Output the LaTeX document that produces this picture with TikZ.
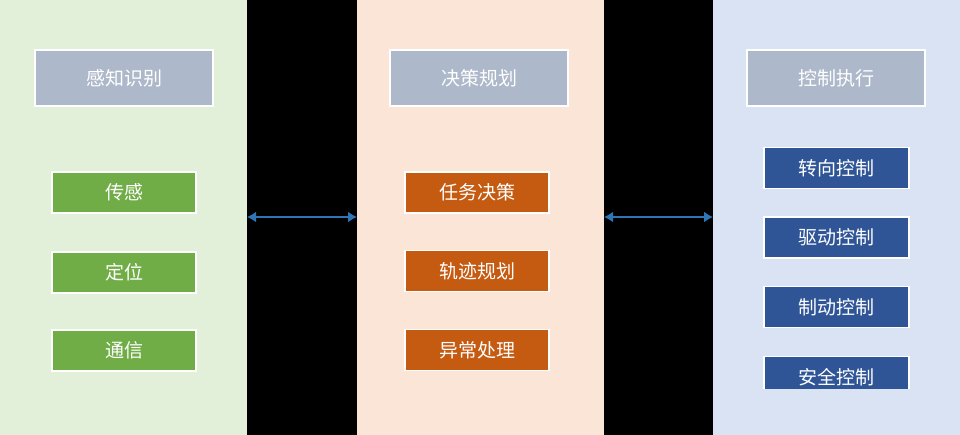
\documentclass[tikz,border=0pt]{standalone}
\usepackage{fontspec}
\newfontfamily\cjk{Noto Sans CJK SC}
\usetikzlibrary{arrows.meta}
\definecolor{pg}{HTML}{E2EFD9}\definecolor{po}{HTML}{FBE5D6}\definecolor{pb}{HTML}{DAE3F3}
\definecolor{hd}{HTML}{ADB9CA}\definecolor{gb}{HTML}{70AD47}\definecolor{ob}{HTML}{C55A11}
\definecolor{bb}{HTML}{2F5597}\definecolor{ar}{HTML}{2E75B6}
\tikzset{
 hdr/.style={fill=hd,draw=white,line width=1.5pt,minimum width=178pt,minimum height=56pt,text=white,font=\cjk\fontsize{19}{19}\selectfont},
 itm/.style={draw=white,line width=1.2pt,minimum width=144pt,minimum height=41pt,text=white,font=\cjk\fontsize{19}{19}\selectfont},
 link/.style={draw=ar,line width=2.5pt,{Latex[length=9pt,width=11pt]}-{Latex[length=9pt,width=11pt]}}
}
\begin{document}
\begin{tikzpicture}[x=1pt,y=-1pt]
\useasboundingbox (0,0) rectangle (960,435);
\fill[black] (0,0) rectangle (960,435);
\fill[pg] (0,0) rectangle (247,435);
\fill[po] (357,0) rectangle (604,435);
\fill[pb] (713,0) rectangle (960,435);
\node[hdr] (h1) at (124,78) {感知识别};
\node[hdr] (h2) at (479,78) {决策规划};
\node[hdr] (h3) at (836,78) {控制执行};
\node[itm,fill=gb] (g1) at (124,192.5) {传感};
\node[itm,fill=gb] (g2) at (124,272.5) {定位};
\node[itm,fill=gb] (g3) at (124,350.5) {通信};
\node[itm,fill=ob] (o1) at (477,192.5) {任务决策};
\node[itm,fill=ob] (o2) at (477,271) {轨迹规划};
\node[itm,fill=ob] (o3) at (477,350) {异常处理};
\node[itm,fill=bb,minimum width=145pt] (b1) at (836.5,168) {转向控制};
\node[itm,fill=bb,minimum width=145pt] (b2) at (836.5,237.5) {驱动控制};
\node[itm,fill=bb,minimum width=145pt] (b3) at (836.5,307) {制动控制};
\begin{scope}
\clip (762,355) rectangle (911,388);
\node[itm,fill=bb,minimum width=145pt] (b4) at (836.5,377) {安全控制};
\end{scope}
\coordinate (l1) at (247,217);\coordinate (r1) at (357,217);
\coordinate (l2) at (604,217);\coordinate (r2) at (713,217);
\draw[link] (l1) -- (r1);
\draw[link] (l2) -- (r2);
\end{tikzpicture}
\end{document}
